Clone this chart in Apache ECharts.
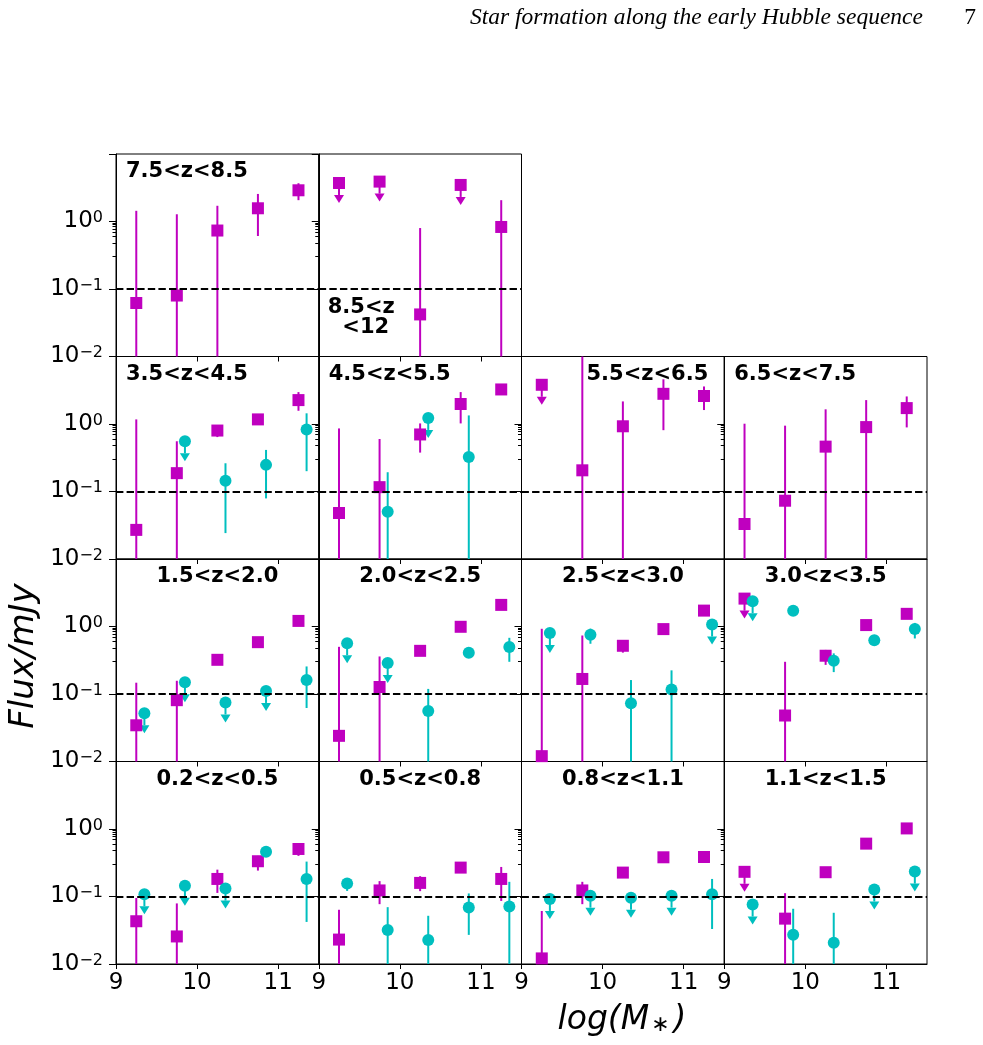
<!DOCTYPE html>
<html>
<head>
<meta charset="utf-8">
<script src="https://cdn.jsdelivr.net/npm/echarts@6/dist/echarts.min.js"></script>
<style>
  html, body { margin: 0; background: #fff; }
  #chart { width: 983px; height: 1045px; }
</style>
</head>
<body>
<div id="chart"></div>
<script>
// x positions of the two samples (log stellar mass bins)
const massMag = [9.25, 9.75, 10.25, 10.75, 11.25];
const massCyan = [9.35, 9.85, 10.35, 10.85, 11.35];

// axis ticks
const xTicks = [9, 10, 11];
const yMinor = [0.02, 0.03, 0.04, 0.05, 0.06, 0.07, 0.08, 0.09,
                0.2, 0.3, 0.4, 0.5, 0.6, 0.7, 0.8, 0.9,
                2, 3, 4, 5, 6, 7, 8, 9];
const threshold = 0.1;

// rows: [flux, errLow, errHigh, upperLimit]   (errLow 0.001 = bar runs off the axis)
const z75_85_mag = [[0.062, 0.001, 1.44], [0.080, 0.001, 1.28], [0.735, 0.001, 1.71], [1.57, 0.61, 2.56], [2.9, 2.07, 3.69]];
const z75_85_cyan = [];

const z85_12_mag = [[3.72, null, null, 1], [3.9, null, null, 1], [0.042, 0.001, 0.80], [3.48, null, null, 1], [0.83, 0.001, 2.07]];
const z85_12_cyan = [];

const z35_45_mag = [[0.027, 0.001, 1.17], [0.187, 0.001, 0.555], [0.80, 0.64, 0.95], [1.17, 1.10, 1.25], [2.26, 1.57, 2.97]];
const z35_45_cyan = [null, [0.555, null, null, 1], [0.144, 0.0242, 0.262], [0.248, 0.079, 0.413], [0.83, 0.20, 1.44]];

const z45_55_mag = [[0.048, 0.001, 0.86], [0.116, 0.001, 0.60], [0.70, 0.377, 1.02], [1.98, 1.02, 2.97], [3.25, 2.9, 3.6]];
const z45_55_cyan = [null, [0.050, 0.001, 0.193], [1.23, null, null, 1], [0.325, 0.001, 1.34], null];

const z55_65_mag = [[3.81, null, null, 1], [0.206, 0.001, 20], [0.925, 0.001, 2.16], [2.8, 0.81, 4.6], [2.6, 1.61, 3.6]];
const z55_65_cyan = [];

const z65_75_mag = [[0.033, 0.001, 1.01], [0.073, 0.001, 0.945], [0.462, 0.001, 1.65], [0.90, 0.001, 2.26], [1.72, 0.89, 2.56]];
const z65_75_cyan = [];

const z15_20_mag = [[0.0344, 0.001, 0.147], [0.081, 0.001, 0.157], [0.321], [0.586], [1.21]];
const z15_20_cyan = [[0.052, null, null, 1], [0.149, null, null, 1], [0.075, null, null, 1], [0.111, null, null, 1], [0.161, 0.062, 0.256]];

const z20_25_mag = [[0.024, 0.001, 0.50], [0.127, 0.001, 0.36], [0.436, 0.41, 0.46], [0.99], [2.09]];
const z20_25_cyan = [[0.567, null, null, 1], [0.287, null, null, 1], [0.056, 0.001, 0.119], [0.408], [0.495, 0.30, 0.68]];

const z25_30_mag = [[0.012, 0.001, 0.925], [0.167, 0.001, 0.736], [0.518, 0.41, 0.63], [0.915], [1.72]];
const z25_30_cyan = [[0.80, null, null, 1], [0.753, 0.555, 0.93], [0.073, 0.001, 0.161], [0.117, 0.001, 0.224], [1.07, null, null, 1]];

const z30_35_mag = [[2.59, null, null, 1], [0.048, 0.001, 0.30], [0.369, 0.27, 0.45], [1.05], [1.54, 1.45, 1.62]];
const z30_35_cyan = [[2.37, null, null, 1], [1.71], [0.311, 0.211, 0.40], [0.628, 0.53, 0.70], [0.915, 0.665, 1.13]];

const z02_05_mag = [[0.043, 0.001, 0.095], [0.0256, 0.001, 0.079], [0.182, 0.113, 0.25], [0.333, 0.242, 0.40], [0.506, 0.40, 0.61]];
const z02_05_cyan = [[0.108, null, null, 1], [0.144, null, null, 1], [0.131, null, null, 1], [0.462], [0.182, 0.042, 0.329]];

const z05_08_mag = [[0.023, 0.001, 0.0636], [0.123, 0.077, 0.169], [0.159, 0.12, 0.20], [0.268, 0.25, 0.285], [0.182, 0.086, 0.274]];
const z05_08_cyan = [[0.156, 0.121, 0.187], [0.0318, 0.001, 0.0695], [0.0226, 0.001, 0.0518], [0.0688, 0.027, 0.111], [0.071, 0.001, 0.165]];

const z08_11_mag = [[0.0121, 0.001, 0.061], [0.123, 0.077, 0.165], [0.226], [0.381], [0.385, 0.35, 0.41]];
const z08_11_cyan = [[0.092, null, null, 1], [0.103, null, null, 1], [0.096, null, null, 1], [0.103, null, null, 1], [0.108, 0.033, 0.182]];

const z11_15_mag = [[0.232, null, null, 1], [0.047, 0.001, 0.112], [0.229, 0.215, 0.245], [0.607], [1.02]];
const z11_15_cyan = [[0.076, null, null, 1], [0.0271, 0.001, 0.0658], [0.0207, 0.001, 0.0574], [0.127, null, null, 1], [0.234, null, null, 1]];

// panel layout: row, col, title, title placement
const panels = [
  { row: 0, col: 0, title: '7.5<z<8.5', place: 'left', mag: z75_85_mag, cyan: z75_85_cyan },
  { row: 0, col: 1, title: '8.5<z\n  <12', place: 'lowleft', mag: z85_12_mag, cyan: z85_12_cyan },
  { row: 1, col: 0, title: '3.5<z<4.5', place: 'left', mag: z35_45_mag, cyan: z35_45_cyan },
  { row: 1, col: 1, title: '4.5<z<5.5', place: 'left', mag: z45_55_mag, cyan: z45_55_cyan },
  { row: 1, col: 2, title: '5.5<z<6.5', place: 'right', mag: z55_65_mag, cyan: z55_65_cyan },
  { row: 1, col: 3, title: '6.5<z<7.5', place: 'left', mag: z65_75_mag, cyan: z65_75_cyan },
  { row: 2, col: 0, title: '1.5<z<2.0', place: 'center', mag: z15_20_mag, cyan: z15_20_cyan },
  { row: 2, col: 1, title: '2.0<z<2.5', place: 'center', mag: z20_25_mag, cyan: z20_25_cyan },
  { row: 2, col: 2, title: '2.5<z<3.0', place: 'center', mag: z25_30_mag, cyan: z25_30_cyan },
  { row: 2, col: 3, title: '3.0<z<3.5', place: 'center', mag: z30_35_mag, cyan: z30_35_cyan },
  { row: 3, col: 0, title: '0.2<z<0.5', place: 'center', mag: z02_05_mag, cyan: z02_05_cyan },
  { row: 3, col: 1, title: '0.5<z<0.8', place: 'center', mag: z05_08_mag, cyan: z05_08_cyan },
  { row: 3, col: 2, title: '0.8<z<1.1', place: 'center', mag: z08_11_mag, cyan: z08_11_cyan },
  { row: 3, col: 3, title: '1.1<z<1.5', place: 'center', mag: z11_15_mag, cyan: z11_15_cyan }
];

const MAG = '#bf00bf';
const CYAN = '#00bfbf';
const GX = 116, GY = 154, GW = 202.75, GH = 202.5;
const FONT = '"DejaVu Sans", sans-serif';

const chart = echarts.init(document.getElementById('chart'));

// vertical error bar, clipped to the panel
function errRender(color) {
  return function (params, api) {
    const cs = params.coordSys;
    const x = api.value(0);
    const p1 = api.coord([x, api.value(2)]);
    const p2 = api.coord([x, api.value(1)]);
    const y1 = Math.max(cs.y, Math.min(cs.y + cs.height, p1[1]));
    const y2 = Math.max(cs.y, Math.min(cs.y + cs.height, p2[1]));
    return {
      type: 'line',
      shape: { x1: p1[0], y1: y1, x2: p2[0], y2: y2 },
      style: { stroke: color, lineWidth: 2 }
    };
  };
}

// upper-limit arrow hanging below the marker
function upRender(color) {
  return function (params, api) {
    const p = api.coord([api.value(0), api.value(1)]);
    const len = 12;
    return {
      type: 'group',
      children: [
        { type: 'line', shape: { x1: p[0], y1: p[1], x2: p[0], y2: p[1] + len }, style: { stroke: color, lineWidth: 2 } },
        { type: 'polygon', shape: { points: [[p[0] - 5, p[1] + len], [p[0] + 5, p[1] + len], [p[0], p[1] + len + 8]] }, style: { fill: color } }
      ]
    };
  };
}

function yLabelFmt(v) {
  const e = Math.round(Math.log10(v));
  if (e > 0) return '';
  return '{b|10}{s|' + (e < 0 ? '\u2212' + (-e) : e) + '}';
}

const grid = [], xAxis = [], yAxis = [], series = [], graphic = [];

panels.forEach((p, i) => {
  const left = GX + p.col * GW;
  const top = GY + p.row * GH;
  grid.push({ left: left, top: top, width: GW, height: GH, show: true, borderColor: '#000', borderWidth: 1, containLabel: false });

  xAxis.push({
    gridIndex: i, type: 'value', min: 9, max: 11.5,
    axisLine: { show: true, onZero: false, lineStyle: { color: '#000', width: 1 } },
    axisTick: { show: true, customValues: xTicks, length: 5, lineStyle: { color: '#000' } },
    axisLabel: { show: p.row === 3, customValues: xTicks, fontSize: 23, fontFamily: FONT, color: '#000', margin: 8 },
    splitLine: { show: false }
  });
  yAxis.push({
    gridIndex: i, type: 'log', logBase: 10, min: 0.01, max: 10, position: 'left',
    axisLine: { show: true, lineStyle: { color: '#000', width: 1 } },
    axisTick: { show: true, length: 7, lineStyle: { color: '#000' } },
    axisLabel: {
      show: p.col === 0, margin: 13, formatter: yLabelFmt,
      rich: {
        b: { fontSize: 23, fontFamily: FONT, color: '#000' },
        s: { fontSize: 16, fontFamily: FONT, color: '#000', verticalAlign: 'top' }
      }
    },
    splitLine: { show: false }
  });
  // minor ticks (tick values of a log axis are given as exponents)
  yAxis.push({
    gridIndex: i, type: 'log', logBase: 10, min: 0.01, max: 10, position: 'left', offset: 0,
    axisLine: { show: false },
    axisTick: { show: true, customValues: yMinor.map(Math.log10), length: 3.5, lineStyle: { color: '#000' } },
    axisLabel: { show: false },
    splitLine: { show: false }
  });

  const sets = [
    { rows: p.mag, xs: massMag, color: MAG, symbol: 'rect' },
    { rows: p.cyan, xs: massCyan, color: CYAN, symbol: 'circle' }
  ];
  sets.forEach((s) => {
    const pts = [], errs = [], ups = [];
    s.rows.forEach((r, j) => {
      if (!r) return;
      pts.push([s.xs[j], r[0]]);
      if (r[1] != null) errs.push([s.xs[j], r[1], r[2]]);
      if (r[3]) ups.push([s.xs[j], r[0]]);
    });
    if (!pts.length) return;
    series.push({
      type: 'custom', xAxisIndex: i, yAxisIndex: 2 * i, renderItem: errRender(s.color),
      data: errs, z: 2, silent: true
    });
    series.push({
      type: 'custom', xAxisIndex: i, yAxisIndex: 2 * i, renderItem: upRender(s.color),
      data: ups, z: 2, silent: true
    });
    series.push({
      type: 'scatter', xAxisIndex: i, yAxisIndex: 2 * i, data: pts,
      symbol: s.symbol, symbolSize: 12, itemStyle: { color: s.color, opacity: 1 }, z: 3, silent: true
    });
  });

  // flux threshold
  series.push({
    type: 'line', xAxisIndex: i, yAxisIndex: 2 * i, data: [], z: 1,
    markLine: {
      silent: true, symbol: 'none', animation: false,
      label: { show: false },
      lineStyle: { color: '#000', width: 2, type: [7.4, 3.2] },
      data: [{ yAxis: threshold }]
    }
  });

  // panel title
  const tStyle = { text: p.title, font: 'bold 21px ' + FONT, fill: '#000', textVerticalAlign: 'middle' };
  let tx, ty = top + 18;
  if (p.place === 'left') { tx = left + 10; tStyle.textAlign = 'left'; }
  else if (p.place === 'center') { tx = left + GW / 2; tStyle.textAlign = 'center'; }
  else if (p.place === 'right') { tx = left + GW - 16; tStyle.textAlign = 'right'; }
  else { tx = left + 9; ty = top + 164; tStyle.textAlign = 'left'; tStyle.lineHeight = 20; }
  graphic.push({ type: 'text', x: tx, y: ty, z: 10, style: tStyle });
});

// page header and axis titles
graphic.push({ type: 'text', x: 470, y: 18, style: { text: 'Star formation along the early Hubble sequence', font: 'italic 23.5px "Liberation Serif", serif', fill: '#000', textAlign: 'left', textVerticalAlign: 'middle' } });
graphic.push({ type: 'text', x: 970, y: 18, style: { text: '7', font: '23.5px "Liberation Serif", serif', fill: '#000', textAlign: 'center', textVerticalAlign: 'middle' } });
graphic.push({ type: 'text', x: 24, y: 656, rotation: Math.PI / 2, style: { text: 'Flux/mJy', font: 'italic 34px ' + FONT, fill: '#000', textAlign: 'center', textVerticalAlign: 'middle' } });
graphic.push({
  type: 'text', x: 622, y: 1020,
  style: {
    text: '{a|log(M}{s|\u2217}{a|)}', textAlign: 'center', textVerticalAlign: 'middle',
    rich: {
      a: { font: 'italic 33px ' + FONT, fill: '#000' },
      s: { font: '22px ' + FONT, fill: '#000', verticalAlign: 'bottom', padding: [0, 4, 0, 2] }
    }
  }
});

chart.setOption({
  animation: false,
  grid: grid,
  xAxis: xAxis,
  yAxis: yAxis,
  series: series,
  graphic: graphic
});
</script>
</body>
</html>
